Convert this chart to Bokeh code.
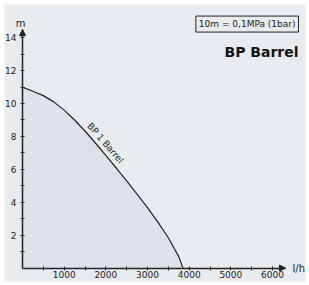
from bokeh.plotting import figure
from bokeh.models import Range1d, FixedTicker, Label, Arrow, NormalHead
from bokeh.embed import file_html
from bokeh.resources import INLINE

# data
flow = [0, 250, 500, 750, 1000, 1250, 1500, 1750, 2000, 2250, 2500, 2750, 3000, 3250, 3500, 3750, 3850]
head = [11.0, 10.75, 10.48, 10.1, 9.6, 9.0, 8.33, 7.6, 6.85, 6.08, 5.29, 4.49, 3.67, 2.79, 1.84, 0.69, 0.0]
x_ticks = [1000, 2000, 3000, 4000, 5000, 6000]
x_minor = [500, 1500, 2500, 3500, 4500, 5500]
y_ticks = [2, 4, 6, 8, 10, 12, 14]
y_minor = [1, 3, 5, 7, 9, 11, 13]
series_name = "BP 1 Barrel"
title = "BP Barrel"
note = "10m = 0,1MPa (1bar)"
x_unit = "l/h"
y_unit = "m"

BG = "#e9ecef"
FILL = "#dde1e9"
INK = "#222222"
FONT = "DejaVu Sans"

p = figure(width=309, height=285, x_range=Range1d(-432, 6792), y_range=Range1d(-0.82, 16.02),
           output_backend="svg", toolbar_location=None,
           min_border_left=4, min_border_right=4, min_border_top=4, min_border_bottom=4)
p.background_fill_color = BG
p.border_fill_color = "white"
p.outline_line_color = None
p.grid.visible = False

for ax, ticks, minor, bounds in ((p.xaxis[0], x_ticks, x_minor, (0, 6300)),
                                 (p.yaxis[0], y_ticks, y_minor, (0, 14.5))):
    ax.fixed_location = 0
    ax.ticker = FixedTicker(ticks=ticks, minor_ticks=minor)
    ax.bounds = bounds
    ax.axis_line_color = INK
    ax.axis_line_width = 1.5
    ax.major_tick_line_color = INK
    ax.minor_tick_line_color = INK
    ax.major_tick_in = 2
    ax.major_tick_out = 2
    ax.minor_tick_in = 2
    ax.minor_tick_out = 2
    ax.major_label_text_font = FONT
    ax.major_label_text_font_size = "9px"
    ax.major_label_text_color = INK
p.xaxis.major_label_standoff = 1
p.yaxis.major_label_standoff = 4

p.varea(x=flow, y1=[0] * len(flow), y2=head, fill_color=FILL)
p.line(x=flow, y=head, line_color=INK, line_width=1.2)

p.add_layout(Arrow(end=NormalHead(size=6, fill_color=INK, line_color=INK),
                   x_start=6200, y_start=0, x_end=6310, y_end=0,
                   line_color=INK, line_width=1.5))
p.add_layout(Arrow(end=NormalHead(size=6, fill_color=INK, line_color=INK),
                   x_start=0, y_start=14.0, x_end=0, y_end=14.5,
                   line_color=INK, line_width=1.5))

p.add_layout(Label(x=0, y=14.89, text=y_unit, text_align="center", text_baseline="alphabetic",
                   x_offset=-2, text_font=FONT, text_font_size="10px", text_color=INK))
p.add_layout(Label(x=6480, y=0, text=x_unit, text_align="left", text_baseline="middle",
                   text_font=FONT, text_font_size="10px", text_color=INK))
p.add_layout(Label(x=6624, y=14.83, text=note, text_align="right", text_baseline="middle",
                   text_font=FONT, text_font_size="9px", text_color=INK,
                   border_line_color=INK, border_line_width=1, padding=3))
p.add_layout(Label(x=6624, y=13.16, text=title, text_align="right", text_baseline="middle",
                   text_font=FONT, text_font_size="14px", text_font_style="bold", text_color="#111111"))
p.add_layout(Label(x=1900, y=7.15, text=series_name, text_align="center", text_baseline="bottom",
                   angle=-49, angle_units="deg", y_offset=4,
                   text_font=FONT, text_font_size="9px", text_color=INK))

open("out.html", "w").write(file_html(p, INLINE))
